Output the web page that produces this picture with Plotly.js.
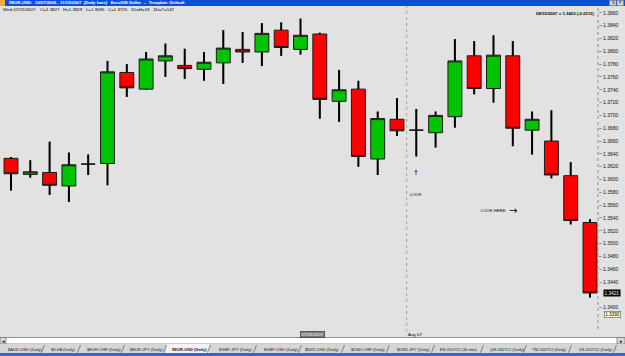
<!DOCTYPE html>
<html>
<head>
<meta charset="utf-8">
<script src="https://cdn.plot.ly/plotly-3.0.1.min.js"></script>
<style>html,body{margin:0;padding:0;background:#e2e2e2;}#chart{width:625px;height:356px;}</style>
</head>
<body>
<div id="chart"></div>
<script>
// ---- data (EUR/USD daily bars) ----
const dates = ['2007-07-03','2007-07-04','2007-07-05','2007-07-06','2007-07-09','2007-07-10','2007-07-11','2007-07-12','2007-07-13','2007-07-16','2007-07-17','2007-07-18','2007-07-19','2007-07-20','2007-07-23','2007-07-24','2007-07-25','2007-07-26','2007-07-27','2007-07-30','2007-07-31','2007-08-01','2007-08-02','2007-08-03','2007-08-06','2007-08-07','2007-08-08','2007-08-09','2007-08-10','2007-08-13','2007-08-14'];
const openP  = [1.3633,1.3608,1.3611,1.3590,1.3624,1.3625,1.3767,1.3741,1.3785,1.3778,1.3772,1.3782,1.3803,1.3799,1.3833,1.3803,1.3827,1.3722,1.3741,1.3632,1.3694,1.3677,1.3673,1.3698,1.3793,1.3742,1.3793,1.3677,1.3660,1.3606,1.3533];
const highP  = [1.3635,1.3630,1.3659,1.3642,1.3639,1.3785,1.3780,1.3799,1.3812,1.3804,1.3799,1.3833,1.3830,1.3844,1.3845,1.3851,1.3829,1.3771,1.3754,1.3706,1.3727,1.3710,1.3706,1.3819,1.3816,1.3825,1.3816,1.3706,1.3708,1.3627,1.3538];
const lowP   = [1.3583,1.3603,1.3576,1.3565,1.3607,1.3591,1.3729,1.3740,1.3760,1.3757,1.3754,1.3749,1.3782,1.3777,1.3793,1.3795,1.3695,1.3690,1.3620,1.3607,1.3668,1.3636,1.3650,1.3681,1.3733,1.3720,1.3652,1.3639,1.3602,1.3530,1.3416];
const closeP = [1.3609,1.3612,1.3591,1.3623,1.3624,1.3768,1.3743,1.3788,1.3793,1.3773,1.3783,1.3805,1.3799,1.3828,1.3806,1.3825,1.3725,1.3740,1.3636,1.3695,1.3676,1.3677,1.3700,1.3785,1.3742,1.3794,1.3680,1.3694,1.3607,1.3536,1.3423];
// 1.3420 is hidden under the last-price box in the reference
const priceTicks = [1.3400,1.3440,1.3460,1.3480,1.3500,1.3520,1.3540,1.3560,1.3580,1.3600,1.3620,1.3640,1.3660,1.3680,1.3700,1.3720,1.3740,1.3760,1.3780,1.3800,1.3820,1.3840,1.3860];
const cursorPrice = 1.3390;
const cursorDate = '07/26/2007';
const infoIndex = 16;
const tabs = ['$AUD-USD (Daily)','$DJIA (Daily)','$EUR-CHF (Daily)','$EUR-JPY (Daily)','$EUR-USD (Daily)','$GBP-JPY (Daily)','$GBP-USD (Daily)','$NZD-USD (Daily)','$USD-CHF (Daily)','$USD-JPY (Daily)','ES-200712 (30 min)','QH-200712 (Daily)','YM-200712 (Daily)','ZS-200712 (Daily)'];
const activeTab = 4;

// ---- geometry helpers (page pixels -> paper) ----
const PW = 598, PT = 6, PH = 323;
const px = v => v / PW;
const py = v => (PT + PH - v) / PH;
const FONT = 'Liberation Sans, Arial, sans-serif';

// wick segments outside the bodies
const wx = [], wy = [];
for (let i = 0; i < dates.length; i++) {
  const top = Math.max(openP[i], closeP[i]), bot = Math.min(openP[i], closeP[i]);
  wx.push(dates[i], dates[i], null, dates[i], dates[i], null);
  wy.push(highP[i], top, null, bot, lowP[i], null);
}

const traces = [
  {type:'scatter', mode:'lines', x:wx, y:wy, line:{color:'#000', width:2}, hoverinfo:'skip', showlegend:false},
  {type:'candlestick', x:dates, open:openP, high:highP, low:lowP, close:closeP,
   increasing:{line:{color:'#1a1a1a', width:1}, fillcolor:'#00c400'},
   decreasing:{line:{color:'#1a1a1a', width:1}, fillcolor:'#ff0000'},
   whiskerwidth:0, showlegend:false, hoverinfo:'skip'}
];

const fmt = v => v.toFixed(4);
const n = closeP.length;
const chg = closeP[n-1] - closeP[n-2];
const augIdx = dates.findIndex(d => d >= '2007-08-01');

const ann = [];
function txt(text, x, y, size, opts) {
  ann.push(Object.assign({text:text, x:x, y:y, xref:'paper', yref:'paper', showarrow:false,
    font:{family:FONT, size:size, color:'#000'}, xanchor:'left', yanchor:'middle'}, opts || {}));
}
// title bar
txt('<b>$EUR-USD:  10/07/2006 - 11/15/2007  (Daily bars)   Euro/US Dollar  --  Template: Default</b>', px(7), py(3), 4.3, {font:{family:FONT, size:4.3, color:'#ffffff'}});
txt('S', px(613), py(3), 4, {xanchor:'center', font:{family:FONT, size:4, color:'#000'}});
txt('P', px(620), py(3), 4, {xanchor:'center', font:{family:FONT, size:4, color:'#000'}});
// info line
const d0 = dates[infoIndex].split('-');
txt('Wed ' + d0[1] + '/' + d0[2] + '/' + d0[0] + ':   O=' + fmt(openP[infoIndex]) + '   H=' + fmt(highP[infoIndex]) + '   L=' + fmt(lowP[infoIndex]) + '   C=' + fmt(closeP[infoIndex]) + '   1DaH=18   1DaY=147', px(1), py(9.5), 4.4);
// last value (top right)
txt('<b>08/15/2007 = ' + fmt(closeP[n-1]) + ' (' + (chg >= 0 ? '+' : '') + fmt(chg) + ')</b>', px(597), py(14), 4.3, {xanchor:'right'});
// chart notes
ann.push({text:'↑', x:dates[augIdx], y:1.3610, xref:'x', yref:'y', showarrow:false, font:{family:'DejaVu Sans', size:7, color:'#000'}});
ann.push({text:'LOOK', x:dates[augIdx], y:1.3577, xref:'x', yref:'y', showarrow:false, font:{family:FONT, size:4.2, color:'#000'}});
ann.push({text:'LOOK HERE', x:dates[augIdx+4], y:1.3551, xref:'x', yref:'y', showarrow:false, font:{family:FONT, size:4.2, color:'#000'}});
ann.push({text:'→', x:dates[augIdx+5], y:1.3551, xref:'x', yref:'y', showarrow:false, font:{family:'DejaVu Sans', size:10, color:'#000'}});
// price boxes on the axis
ann.push({text:fmt(closeP[n-1]), x:px(612), y:closeP[n-1], xref:'paper', yref:'y', showarrow:false,
  font:{family:FONT, size:4.6, color:'#fff'}, bgcolor:'#000', borderpad:0.6, xanchor:'center'});
ann.push({text:fmt(cursorPrice), x:px(612), y:cursorPrice, xref:'paper', yref:'y', showarrow:false,
  font:{family:FONT, size:4.6, color:'#000'}, bgcolor:'#ffffd8', bordercolor:'#555', borderwidth:0.6, borderpad:0.6, xanchor:'center'});
// date row
txt(cursorDate, px(312), py(334), 4.4, {xanchor:'center', font:{family:FONT, size:4.4, color:'#fff'}, bgcolor:'#7a7a7a', bordercolor:'#333', borderwidth:0.6, borderpad:0.6});
txt('Aug 07', px(406), py(334.5), 4.4, {xanchor:'left'});
// tabs
const tabX = [6,49,85,128,170,217,262,303,349,395,438,488,530,577];
tabs.forEach((t, i) => {
  txt(i === activeTab ? '<b>' + t + '</b>' : t, px(tabX[i]), py(349.3), 4.1, {font:{family:FONT, size:4.1, color:'#202020'}});
});
txt('◂', px(3), py(341), 5, {xanchor:'center'});
txt('▸', px(621), py(341), 5, {xanchor:'center'});

const shp = [];
function rect(x0, y0, x1, y1, fill, line, lw) {
  shp.push({type:'rect', xref:'paper', yref:'paper', x0:px(x0), x1:px(x1), y0:py(y1), y1:py(y0),
    fillcolor:fill, line:{color:line || fill, width:lw || 0}, layer:'above'});
}
rect(0, 0, 625, 6, '#0c4fd4');
rect(0, 0, 5, 6, '#e8b040');
rect(609.5, 0.5, 616, 5.5, '#d8d8d8', '#888', 0.5);
rect(617, 0.5, 623.5, 5.5, '#d8d8d8', '#888', 0.5);
rect(0, 337.5, 625, 344, '#ffffff', '#7a7a7a', 0.8);
rect(0, 337.5, 6, 344, '#d8d8d8', '#7a7a7a', 0.8);
rect(617, 337.5, 625, 344, '#d8d8d8', '#7a7a7a', 0.8);
rect(0, 344, 625, 353, '#d6d6d6');
rect(166, 344, 209, 353, '#f2f2f2');
rect(0, 353, 625, 356, '#2f66d6');
const sepX = [43,79,123,165,209,255,300,343,388,433,482,525,570,615];
sepX.forEach(x => shp.push({type:'line', xref:'paper', yref:'paper', x0:px(x-1.5), x1:px(x+1.5), y0:py(352.5), y1:py(345), line:{color:'#555', width:0.7}, layer:'above'}));
// dotted price axis line and month separator
shp.push({type:'line', xref:'paper', yref:'paper', x0:1, x1:1, y0:py(329), y1:py(6), line:{color:'#8c8c8c', width:1, dash:'dot'}});
shp.push({type:'line', xref:'x', yref:'paper', x0:augIdx - 0.5, x1:augIdx - 0.5, y0:py(332), y1:py(6), line:{color:'#a4a4a4', width:1, dash:'dot'}});

const layout = {
  width:625, height:356,
  margin:{l:0, r:27, t:6, b:27, pad:0},
  paper_bgcolor:'#e2e2e2', plot_bgcolor:'#e2e2e2',
  showlegend:false, hovermode:false,
  boxgap:0.28, boxgroupgap:0,
  xaxis:{type:'category', range:[-0.57, 30.415], showticklabels:false, showgrid:false, zeroline:false,
         showline:false, ticks:'', rangeslider:{visible:false}, fixedrange:true},
  yaxis:{side:'right', range:[1.33668, 1.38707], tickvals:priceTicks, ticktext:priceTicks.map(fmt),
         tickfont:{family:FONT, size:5, color:'#111'}, ticks:'outside', ticklen:3, tickwidth:0.7, tickcolor:'#777',
         showgrid:false, zeroline:false, showline:false, fixedrange:true},
  shapes:shp, annotations:ann
};
Plotly.newPlot('chart', traces, layout, {displayModeBar:false, staticPlot:true});
</script>
</body>
</html>
